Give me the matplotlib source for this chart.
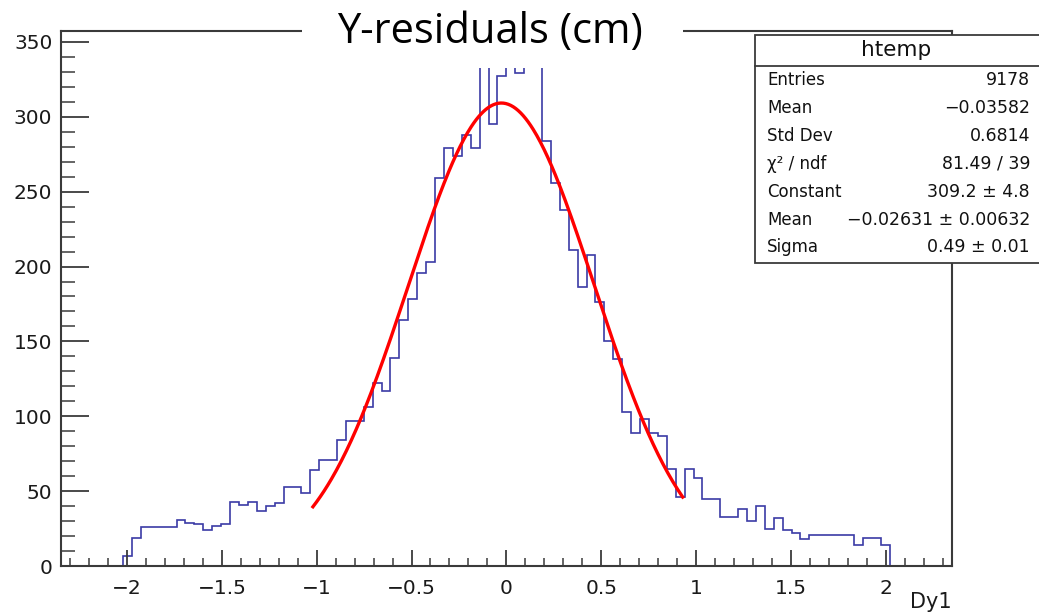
import numpy as np
import matplotlib
matplotlib.use('Agg')
import matplotlib.pyplot as plt
import matplotlib.patches as mpatches

# histogram htemp: 100 bins over [-2.35, 2.35]
x_lo, x_hi, n_bins = -2.35, 2.35, 100
counts = [
    0, 0, 0, 0, 0, 0, 0, 7, 19, 26,
    26, 26, 26, 31, 29, 28, 24, 27, 28, 43,
    41, 43, 37, 40, 42, 53, 53, 49, 64, 71,
    71, 84, 97, 97, 106, 122, 117, 139, 164, 178,
    196, 203, 259, 279, 274, 288, 279, 345, 295, 327,
    340, 329, 338, 336, 284, 256, 238, 211, 186, 208,
    176, 150, 138, 103, 89, 98, 89, 87, 65, 46,
    65, 59, 45, 45, 33, 33, 38, 30, 40, 25,
    32, 24, 22, 18, 21, 21, 21, 21, 21, 14,
    19, 19, 14, 0, 0, 0, 0, 0, 0, 0,
]

# gaussian fit (values from the stats box)
fit_const, fit_mean, fit_sigma = 309.2, -0.02631, 0.49
fit_range = (-1.02, 0.93)

stat_labels = ['Entries', 'Mean', 'Std Dev', 'χ² / ndf', 'Constant', 'Mean', 'Sigma']
stat_values = ['9178', '\u22120.03582', '0.6814', '81.49 / 39', '309.2 \u00b1 4.8',
               '\u22120.02631 \u00b1 0.00632', '0.49 \u00b1 0.01']

y_ticks = [0, 50, 100, 150, 200, 250, 300, 350]
x_ticks = [-2, -1.5, -1, -0.5, 0, 0.5, 1, 1.5, 2]

W, H = 1039, 616
ROOT_FONT = ['DejaVu Sans']
FRAME = '#3a3a3a'

fig = plt.figure(figsize=(W / 100, H / 100), dpi=100)
fig.patch.set_facecolor('white')
ax = fig.add_axes([60.7 / W, 1 - 566 / H, (952 - 60.7) / W, (566 - 31) / H])

edges = np.linspace(x_lo, x_hi, n_bins + 1)
ax.stairs(counts, edges, color='#3b3ba6', lw=1.2, baseline=None)

xf = np.linspace(fit_range[0], fit_range[1], 300)
yf = fit_const * np.exp(-0.5 * ((xf - fit_mean) / fit_sigma) ** 2)
ax.plot(xf, yf, color='#ff0000', lw=2.4)

ax.set_xlim(x_lo, x_hi)
ax.set_ylim(0, 357.3)
ax.set_xticks(x_ticks)
ax.set_xticklabels([f'{t:g}'.replace('-', '\u2212') for t in x_ticks])
ax.set_xticks(np.arange(-2.3, 2.35, 0.1), minor=True)
ax.set_yticks(y_ticks)
ax.set_yticks(np.arange(0, 358, 10), minor=True)
ax.tick_params(axis='x', which='major', direction='in', length=11.5, width=1.3,
               color=FRAME, pad=9, labelsize=14.5, labelcolor='#1a1a1a')
ax.tick_params(axis='x', which='minor', direction='in', length=5.8, width=1.1, color=FRAME)
ax.tick_params(axis='y', which='major', direction='in', length=20, width=1.3,
               color=FRAME, pad=6, labelsize=14.5, labelcolor='#1a1a1a')
ax.tick_params(axis='y', which='minor', direction='in', length=10, width=1.1, color=FRAME)
for lab in ax.get_xticklabels() + ax.get_yticklabels():
    lab.set_family(ROOT_FONT)
for sp in ax.spines.values():
    sp.set_color(FRAME)
    sp.set_linewidth(1.5)

fig.text(952 / W, 1 - 608 / H, 'Dy1', ha='right', va='baseline', fontsize=15,
         family=ROOT_FONT, color='#1a1a1a')

# white title box pasted over the top of the frame
fig.patches.append(mpatches.Rectangle((302 / W, 1 - 68 / H), 381 / W, 68 / H,
                                      transform=fig.transFigure, facecolor='white',
                                      edgecolor='none', zorder=5))
fig.text(490 / W, 1 - 43 / H, 'Y-residuals (cm)', ha='center', va='baseline',
         fontsize=30, family=['Open Sans', 'DejaVu Sans'], color='black', zorder=6)

# stats box (runs past the right edge of the picture)
bx0, by_top, by_bot, sep = 755, 35, 263, 66
fig.patches.append(mpatches.Rectangle((bx0 / W, 1 - by_bot / H), (1060 - bx0) / W,
                                      (by_bot - by_top) / H, transform=fig.transFigure,
                                      facecolor='white', edgecolor=FRAME, lw=1.3, zorder=5))
fig.lines.append(plt.Line2D([bx0 / W, 1.02], [1 - sep / H, 1 - sep / H],
                            transform=fig.transFigure, color=FRAME, lw=1.3, zorder=6))
fig.text(896 / W, 1 - 50 / H, 'htemp', ha='center', va='center', fontsize=15.5,
         family=ROOT_FONT, color='#111111', zorder=7)
row_y = 80
for lab, val in zip(stat_labels, stat_values):
    fig.text(767 / W, 1 - row_y / H, lab, ha='left', va='center', fontsize=12,
             family=ROOT_FONT, color='#111111', zorder=7)
    fig.text(1030 / W, 1 - row_y / H, val, ha='right', va='center', fontsize=12.5,
             family=ROOT_FONT, color='#111111', zorder=7)
    row_y += 27.9

fig.savefig('out.png', dpi=100, facecolor='white')
